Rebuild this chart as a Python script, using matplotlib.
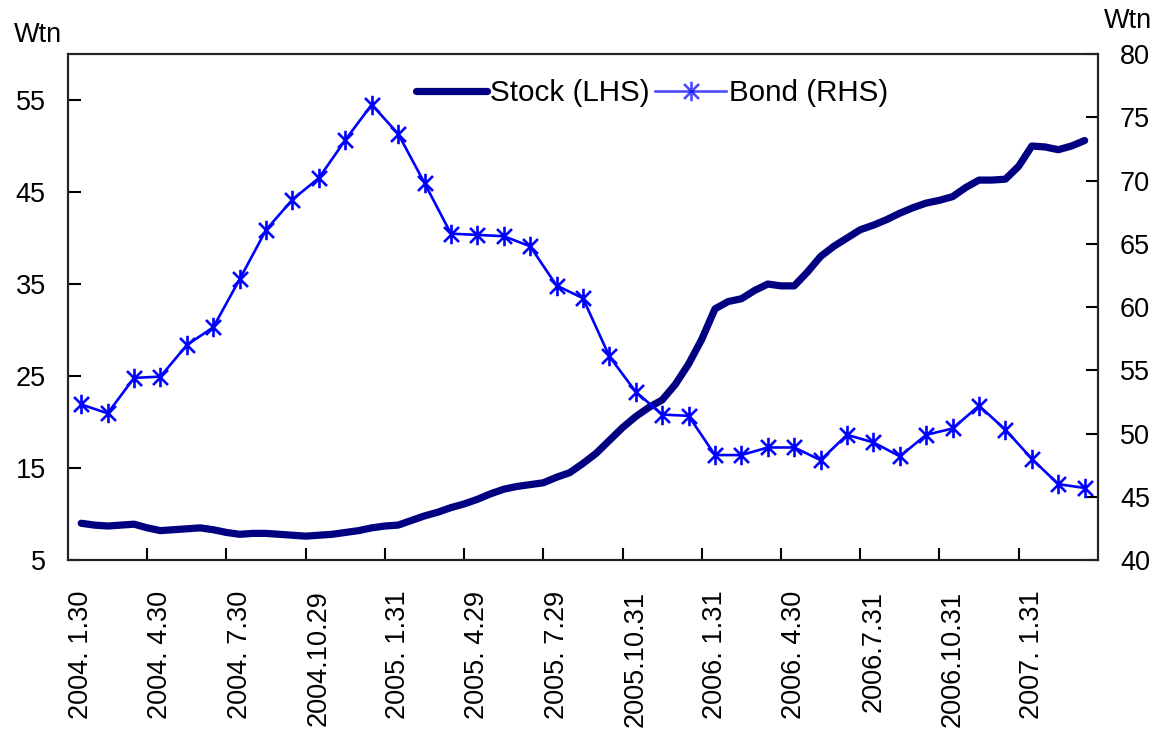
import matplotlib
matplotlib.use("Agg")
import matplotlib.pyplot as plt
from matplotlib.path import Path
import numpy as np

plt.rcParams['font.family'] = ['Liberation Sans', 'DejaVu Sans']

# month-end dates shown on the category axis (every third month labelled)
tick_labels = ['2004. 1.30', '2004. 4.30', '2004. 7.30', '2004.10.29',
               '2005. 1.31', '2005. 4.29', '2005. 7.29', '2005.10.31',
               '2006. 1.31', '2006. 4.30', '2006.7.31', '2006.10.31',
               '2007. 1.31']

# monthly bond balance, Jan 2004 - Mar 2007 (Wtn, right axis)
bond = [52.3, 51.6, 54.4, 54.5, 57.0, 58.4, 62.2, 66.1, 68.5, 70.2,
        73.2, 76.0, 73.7, 69.8, 65.8, 65.7, 65.6, 64.8, 61.7, 60.7,
        56.1, 53.3, 51.5, 51.4, 48.3, 48.3, 48.9, 48.9, 47.9, 49.9,
        49.3, 48.2, 49.9, 50.4, 52.2, 50.3, 48.0, 46.0, 45.7]

# stock balance sampled twice a month (Wtn, left axis)
stock = [9.0, 8.8, 8.7, 8.8, 8.9, 8.5, 8.2, 8.3, 8.4, 8.5,
         8.3, 8.0, 7.8, 7.9, 7.9, 7.8, 7.7, 7.6, 7.7, 7.8,
         8.0, 8.2, 8.5, 8.7, 8.8, 9.3, 9.8, 10.2, 10.7, 11.1,
         11.6, 12.2, 12.7, 13.0, 13.2, 13.4, 14.0, 14.5, 15.5, 16.6,
         18.0, 19.4, 20.6, 21.6, 22.4, 24.1, 26.3, 29.0, 32.3, 33.1,
         33.4, 34.3, 35.0, 34.8, 34.8, 36.3, 38.0, 39.1, 40.0, 40.9,
         41.4, 42.0, 42.7, 43.3, 43.8, 44.1, 44.5, 45.5, 46.3, 46.3,
         46.4, 47.8, 50.0, 49.9, 49.6, 50.0, 50.6]

n_months = len(bond)
x_bond = np.arange(n_months)
x_stock = np.arange(len(stock)) / 2.0

# asterisk marker: an X with a vertical bar through it
star = Path([(-1, -1), (1, 1), (-1, 1), (1, -1), (0, -1.3), (0, 1.3)],
            [Path.MOVETO, Path.LINETO, Path.MOVETO, Path.LINETO,
             Path.MOVETO, Path.LINETO])

fig = plt.figure(figsize=(11.63, 7.35), dpi=100)
ax = fig.add_axes([0.0585, 0.238, 0.8855, 0.6885])
ax2 = ax.twinx()

stock_line, = ax.plot(x_stock, stock, color='#000080', lw=5.2,
                      solid_capstyle='round', solid_joinstyle='round', zorder=3)
bond_line, = ax2.plot(x_bond, bond, color='#0000FF', lw=1.9,
                      marker=star, markersize=14, markeredgewidth=1.9,
                      markerfacecolor='none', markeredgecolor='#0000FF')

ax.set_xlim(-0.5, n_months - 0.5)
ax.set_ylim(5, 60)
ax.set_yticks(np.arange(5, 56, 10))
ax2.set_ylim(40, 80)
ax2.set_yticks(np.arange(40, 81, 5))

# tick marks sit between categories, labels on the category centres
ax.set_xticks(np.arange(2.5, n_months - 1, 3))
ax.set_xticklabels([])
ax.set_xticks(np.arange(0, n_months, 3), tick_labels, minor=True)
ax.tick_params(axis='x', which='major', direction='in', length=9, width=1.5)
ax.tick_params(axis='x', which='minor', length=0, pad=22,
               labelrotation=90, labelsize=19.5)
ax.tick_params(axis='y', direction='in', length=9, width=1.5,
               labelsize=19.5, pad=16)
ax2.tick_params(axis='y', direction='in', length=9, width=1.5,
                labelsize=19.5, pad=16)

for a in (ax, ax2):
    for s in a.spines.values():
        s.set_linewidth(1.5)
        s.set_color('#222222')

fig.text(0.012, 0.952, 'Wtn', fontsize=19.5, ha='left', va='center')
fig.text(0.949, 0.972, 'Wtn', fontsize=19.5, ha='left', va='center')

leg = ax.legend([stock_line, bond_line], ['Stock (LHS)', 'Bond (RHS)'],
                loc='center', bbox_to_anchor=(0.567, 0.922), frameon=False,
                fontsize=21.3, ncol=2, handlelength=2.4, handletextpad=0.1,
                columnspacing=0.2)
leg.get_lines()[1].set_alpha(0.7)

fig.savefig('out.png', dpi=100)
